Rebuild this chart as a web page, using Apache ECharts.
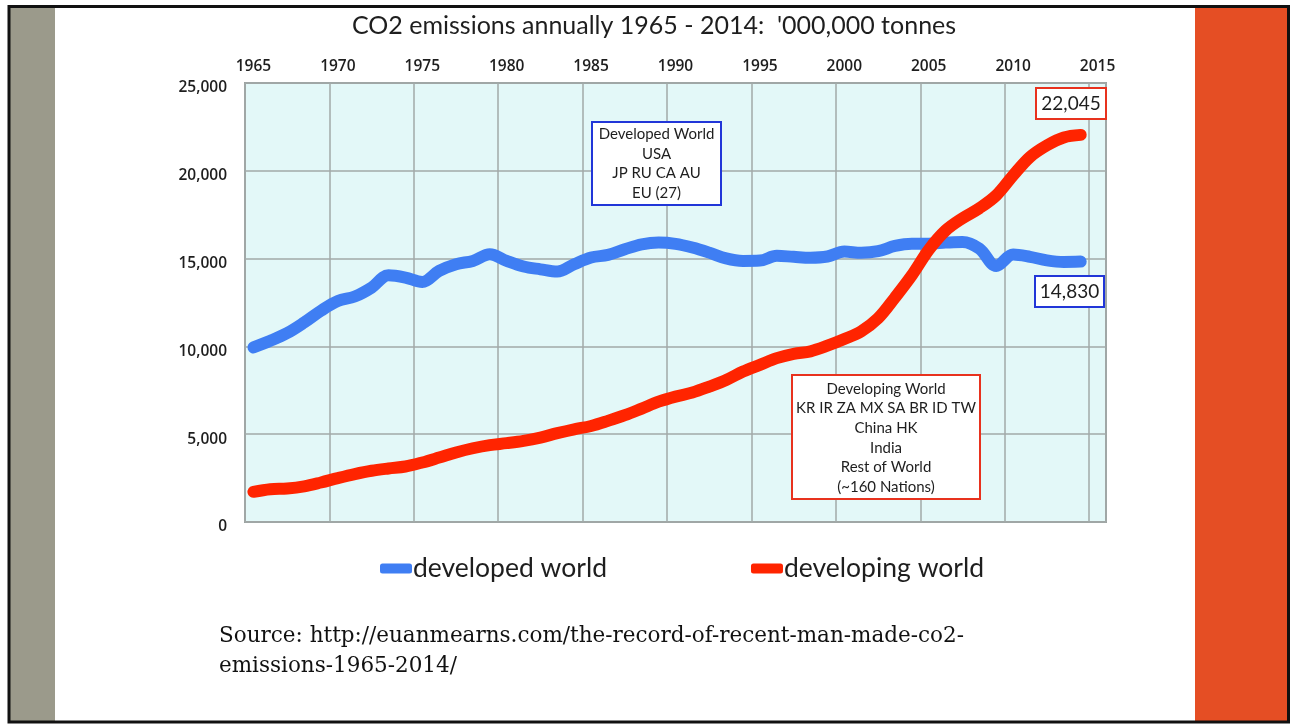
<!DOCTYPE html>
<html>
<head>
<meta charset="utf-8">
<title>CO2 emissions annually 1965 - 2014</title>
<script src="https://cdn.jsdelivr.net/npm/echarts@6/dist/echarts.min.js"></script>
<style>
  html, body { margin: 0; padding: 0; background: #ffffff; }
  #chart { width: 1291px; height: 725px; }
</style>
</head>
<body>
<div id="chart"></div>
<script>
// Year categories (2015 is an empty slot at the right end of the axis)
const years = [];
for (let y = 1965; y <= 2015; y++) years.push(String(y));

// Annual CO2 emissions, million tonnes, 1965-2014
const developedWorld = [
  9940, 10320, 10760, 11360, 12030, 12580, 12840, 13350, 14050, 13920,
  13670, 14300, 14680, 14870, 15250, 14870, 14550, 14390, 14260, 14680,
  15060, 15210, 15530, 15810, 15910, 15840, 15630, 15340, 15010, 14870,
  14890, 15160, 15100, 15050, 15120, 15400, 15330, 15420, 15720, 15850,
  15850, 15910, 15950, 15570, 14580, 15230, 15100, 14900, 14810, 14830
];
const developingWorld = [
  1720, 1870, 1910, 2030, 2250, 2500, 2730, 2920, 3050, 3160,
  3390, 3670, 3960, 4200, 4380, 4490, 4620, 4810, 5060, 5280,
  5470, 5760, 6080, 6460, 6850, 7140, 7370, 7710, 8090, 8570,
  8950, 9330, 9580, 9720, 10040, 10420, 10860, 11600, 12780, 14050,
  15500, 16600, 17300, 17870, 18600, 19740, 20790, 21450, 21900, 22045
];

const seriesNames = ['developed world', 'developing world'];
const developedNote = ['Developed World', 'USA', 'JP RU CA AU', 'EU (27)'];
const developingNote = ['Developing World', 'KR IR ZA MX SA BR ID TW', 'China HK', 'India', 'Rest of World', '(~160 Nations)'];
const titleText = "CO2 emissions annually 1965 - 2014:  '000,000 tonnes";
const sourceLines = [
  'Source: http://euanmearns.com/the-record-of-recent-man-made-co2-',
  'emissions-1965-2014/'
];

const BLUE = '#3f7ef3';
const RED = '#ff2400';
const BOX_BLUE = '#2136d8';
const BOX_RED = '#e8321e';
const INK = '#1e1e1e';
const SANS = 'Lato, "Open Sans", sans-serif';
const TICK_FONT = '"Open Sans", Lato, sans-serif';

const chart = echarts.init(document.getElementById('chart'), null, { renderer: 'canvas' });

// A white note box with a coloured border and centred lines of text
function noteBox(x, y, w, h, lines, stroke, lineGap, firstY, size) {
  const els = [{
    type: 'rect',
    z: 200,
    shape: { x: x, y: y, width: w, height: h },
    style: { fill: '#ffffff', stroke: stroke, lineWidth: 2 }
  }];
  lines.forEach(function (t, i) {
    els.push({
      type: 'text',
      z: 201,
      x: x + w / 2,
      y: firstY + i * lineGap,
      style: {
        text: t, fill: INK, font: size + 'px ' + SANS,
        textAlign: 'center', textVerticalAlign: 'middle'
      }
    });
  });
  return els;
}

const lastDeveloping = developingWorld[developingWorld.length - 1];
const lastDeveloped = developedWorld[developedWorld.length - 1];

const graphics = [
  // slide frame and side bands
  { type: 'rect', z: -10, shape: { x: 10, y: 7, width: 45, height: 715 }, style: { fill: '#9b9a8b' } },
  { type: 'rect', z: -10, shape: { x: 1195, y: 7, width: 93, height: 715 }, style: { fill: '#e54e24' } },
  { type: 'rect', z: -9, shape: { x: 9, y: 6.5, width: 1279.5, height: 715.5 }, style: { fill: 'none', stroke: '#111111', lineWidth: 3 } }
]
  .concat(noteBox(592, 122, 129, 83, developedNote, BOX_BLUE, 19.7, 134, 15))
  .concat(noteBox(792, 375, 188, 124, developingNote, BOX_RED, 19.6, 389, 15))
  .concat(noteBox(1036, 88, 70, 31, [echarts.format.addCommas(lastDeveloping)], BOX_RED, 0, 104, 19))
  .concat(noteBox(1035, 276, 69, 31, [echarts.format.addCommas(lastDeveloped)], BOX_BLUE, 0, 292, 19))
  .concat([
    {
      type: 'text', x: 219, y: 636,
      style: { text: sourceLines[0], fill: '#111111', font: '21.5px "DejaVu Serif", serif', textVerticalAlign: 'middle' }
    },
    {
      type: 'text', x: 219, y: 666,
      style: { text: sourceLines[1], fill: '#111111', font: '21.5px "DejaVu Serif", serif', textVerticalAlign: 'middle' }
    }
  ]);

const option = {
  backgroundColor: '#ffffff',
  animation: false,
  title: {
    text: titleText,
    left: 347,
    top: 8,
    textStyle: { fontFamily: SANS, fontSize: 25, fontWeight: 'normal', color: INK }
  },
  legend: {
    data: seriesNames,
    left: 375,
    top: 550,
    itemWidth: 32,
    itemHeight: 10,
    itemGap: 144,
    icon: 'roundRect',
    textStyle: { fontFamily: SANS, fontSize: 26.5, color: INK, padding: [0, 0, 0, -4] }
  },
  grid: {
    left: 245, top: 83, right: 185, bottom: 203,
    outerBoundsMode: 'none',
    show: true,
    backgroundColor: '#e3f8f8',
    borderColor: '#9aa19f',
    borderWidth: 2
  },
  xAxis: {
    type: 'category',
    data: years,
    position: 'top',
    boundaryGap: true,
    axisLine: { show: false },
    axisTick: { show: false },
    axisLabel: {
      interval: 4,
      margin: 8,
      fontFamily: TICK_FONT, fontSize: 15.5, fontWeight: 600, color: INK
    },
    splitLine: {
      show: true,
      interval: 4,
      lineStyle: { color: '#a2aaa8', width: 1.5 }
    }
  },
  yAxis: {
    type: 'value',
    min: 0,
    max: 25000,
    interval: 5000,
    axisLine: { show: false },
    axisTick: { show: false },
    axisLabel: {
      margin: 18,
      verticalAlign: 'top',
      lineHeight: 10,
      fontFamily: TICK_FONT, fontSize: 15.5, fontWeight: 600, color: INK,
      formatter: function (v) { return echarts.format.addCommas(v); }
    },
    splitLine: { lineStyle: { color: '#a2aaa8', width: 1.5 } }
  },
  series: [
    {
      name: seriesNames[0],
      type: 'line',
      data: developedWorld,
      smooth: 0.35,
      showSymbol: false,
      color: BLUE,
      lineStyle: { width: 12, cap: 'round', join: 'round', color: BLUE }
    },
    {
      name: seriesNames[1],
      type: 'line',
      data: developingWorld,
      smooth: 0.35,
      showSymbol: false,
      color: RED,
      lineStyle: { width: 12, cap: 'round', join: 'round', color: RED }
    }
  ],
  graphic: { elements: graphics }
};

chart.setOption(option);
</script>
</body>
</html>
